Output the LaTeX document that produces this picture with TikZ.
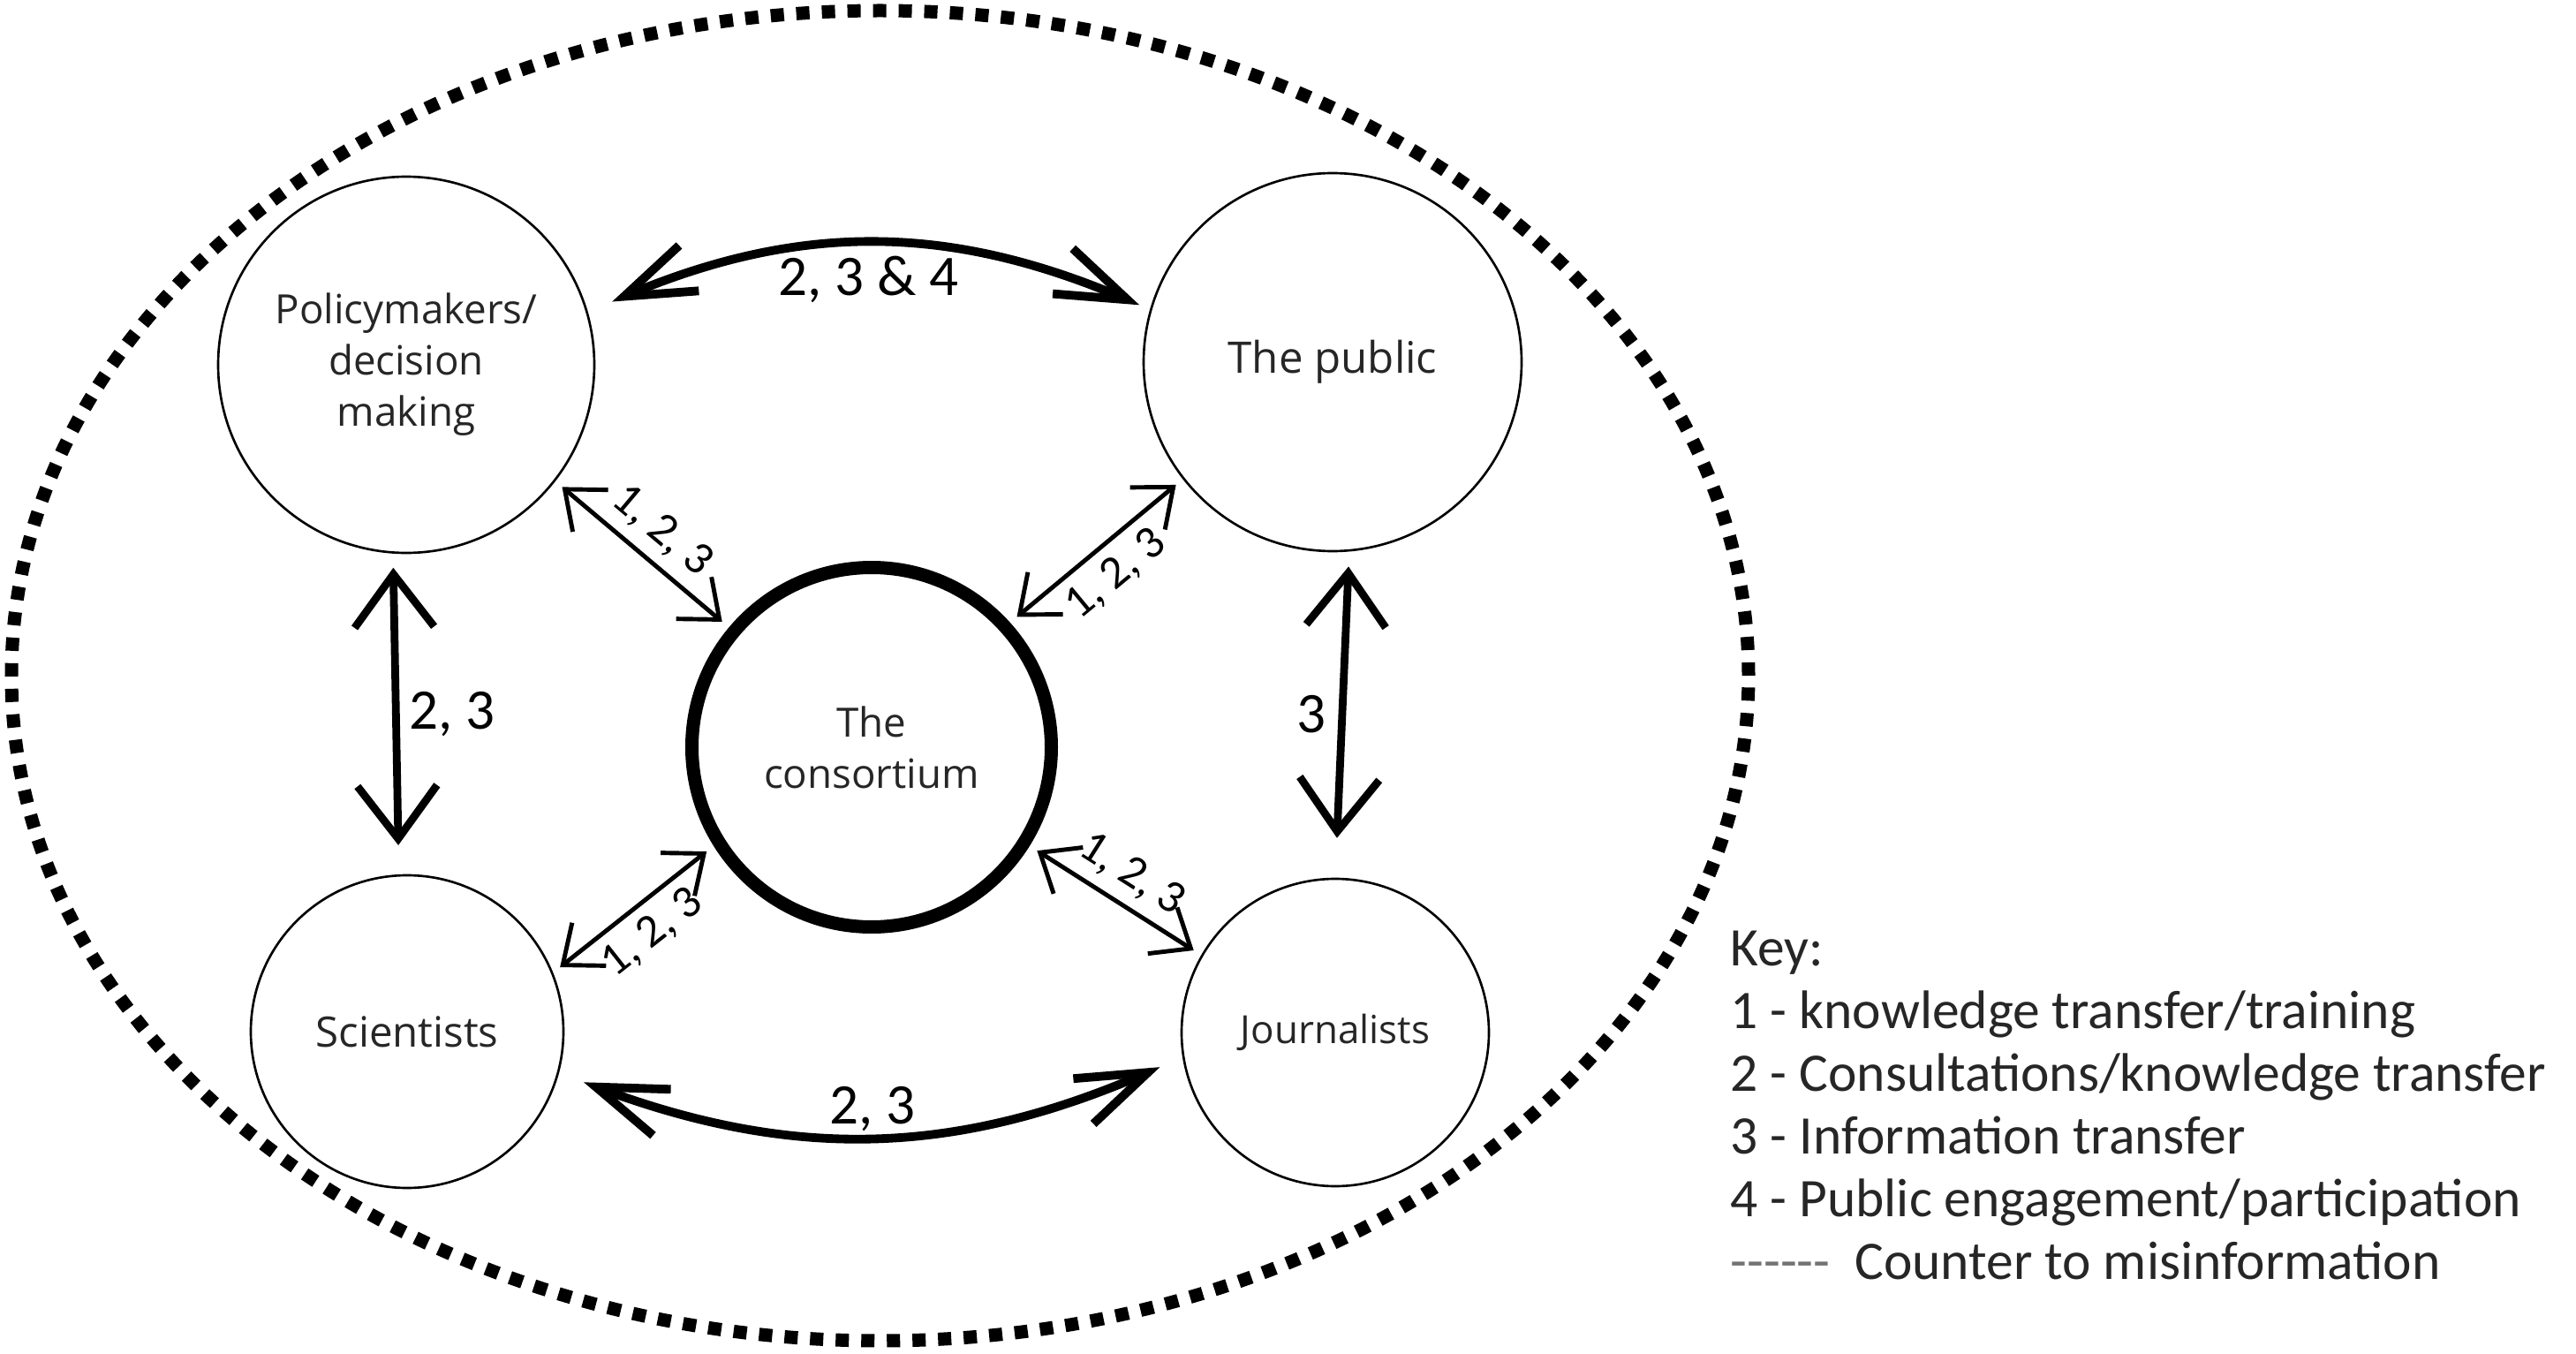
\documentclass[tikz,border=0pt]{standalone}
\usepackage{fontspec}
\setmainfont{Open Sans}
\newfontfamily\keyfont{Carlito}
\usetikzlibrary{positioning,arrows.meta,bending}

\begin{document}
\begin{tikzpicture}[
actor/.style={
  draw,
  circle,
  line width=0.75pt,
  inner sep=0pt,
  align=center,
  text=black!85},
hub/.style={
  actor,
  line width=0.15cm},
dotline/.style={
  line width=0.15cm,
  dash pattern=on 0.15cm off 0.14cm},
link/.style={
  line width=1.4pt,
  >={Straight Barb[length=0.38cm,width=0.62cm]},
  <->,
  shorten <=0.1cm,
  shorten >=0.1cm},
thicklink/.style={
  line width=2.5pt,
  >={Straight Barb[length=0.6cm,width=0.9cm]},
  <->},
arclink/.style={
  line width=2.8pt,
  >={Straight Barb[length=0.8cm,width=0.56cm]},
  <->},
numlbl/.style={font=\keyfont\fontsize{18.5}{20}\selectfont},
smallnum/.style={font=\keyfont\fontsize{15}{17}\selectfont},
keytext/.style={font=\keyfont\fontsize{17.5}{20}\selectfont, text=black!85, inner sep=0pt}
]
\useasboundingbox (0,0) rectangle (29.17,-15.33);
\draw[dotline] (9.965,-7.65) ellipse [x radius=9.835, y radius=7.53];

\node[actor, minimum size=4.26cm, font=\fontsize{13}{16.5}\selectfont] (pol) at (4.60,-4.13) {Policymakers/\\decision\\making};
\node[actor, minimum size=4.28cm, font=\fontsize{14}{17}\selectfont] (pub) at (15.09,-4.10) {The public};
\node[hub, minimum size=4.07cm, font=\fontsize{13}{16.5}\selectfont] (cons) at (9.87,-8.46) {The\\consortium};
\node[actor, minimum size=3.54cm, font=\fontsize{13.5}{16.5}\selectfont] (sci) at (4.61,-11.68) {Scientists};
\node[actor, minimum size=3.48cm, font=\fontsize{12.5}{16}\selectfont] (jou) at (15.12,-11.69) {Journalists};

\draw[arclink, shorten <=0.3cm, shorten >=0.13cm] (pol.16) to[bend left=25] node[midway, below, numlbl] {2, 3 \& 4} (pub.164);
\draw[arclink, shorten <=0.3cm, shorten >=0.28cm] (sci.-15) to[bend right=24] node[midway, above, inner sep=1pt, numlbl] {2, 3} (jou.189);

\draw[thicklink, shorten <=0.16cm, shorten >=0.33cm] (pol.-94) -- node[right, inner sep=3pt, numlbl] {2, 3} (sci.93);
\draw[thicklink, shorten <=0.17cm, shorten >=0.45cm] (pub.-85) -- node[left, inner sep=4pt, numlbl] {3} (jou.90);

\draw[link] (pol.-38) -- node[sloped, above, smallnum] {1, 2, 3} (cons.140);
\draw[link] (cons.42) -- node[sloped, below, smallnum] {1, 2, 3} (pub.-142);
\draw[link] (sci.22) -- node[sloped, below, smallnum] {1, 2, 3} (cons.212);
\draw[link] (cons.-32) -- node[sloped, above, smallnum] {1, 2, 3} (jou.150);

\foreach \txt [count=\i from 0] in {Key:, 1 - knowledge transfer/training, 2 - Consultations/knowledge transfer, 3 - Information transfer, 4 - Public engagement/participation}
  \node[keytext, anchor=base west] (key\i) at (19.59,-10.93-0.71*\i) {\txt};
\node[keytext, anchor=base west] (key5) at (19.59,-14.48) {\textcolor{black!55}{-{}-{}-{}-{}-{}-}\ \ Counter to misinformation};
\end{tikzpicture}
\end{document}
